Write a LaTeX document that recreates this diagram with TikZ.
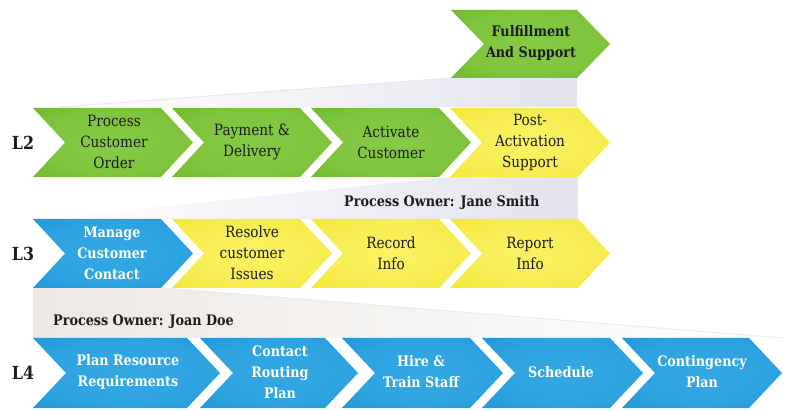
\documentclass[tikz,border=0pt]{standalone}
\usepackage{fontspec}
\setmainfont{DejaVu Serif}[FakeStretch=0.88]
\definecolor{txt}{HTML}{1C1C1C}
\definecolor{funA}{HTML}{E3E3EE}
\definecolor{funB}{HTML}{ECE8E4}
\pgfdeclareradialshading{glowgreen}{\pgfpoint{0bp}{0bp}}{%
  rgb(0bp)=(0.53,0.79,0.27); rgb(22bp)=(0.50,0.77,0.24); rgb(40bp)=(0.42,0.72,0.17); rgb(50bp)=(0.36,0.67,0.12); rgb(60bp)=(0.34,0.65,0.11)}
\pgfdeclareradialshading{glowyellow}{\pgfpoint{0bp}{0bp}}{%
  rgb(0bp)=(0.98,0.95,0.40); rgb(22bp)=(0.97,0.93,0.32); rgb(40bp)=(0.96,0.90,0.18); rgb(50bp)=(0.94,0.88,0.08); rgb(60bp)=(0.93,0.87,0.06)}
\pgfdeclareradialshading{glowblue}{\pgfpoint{0bp}{0bp}}{%
  rgb(0bp)=(0.20,0.66,0.89); rgb(22bp)=(0.18,0.64,0.88); rgb(40bp)=(0.12,0.58,0.85); rgb(50bp)=(0.09,0.54,0.82); rgb(60bp)=(0.08,0.52,0.80)}
\newcommand\chev[6]{% style, left, top, width, depth, height
  \path[#1] (#2,#3) -- ++({#4-#5},0) -- ++(#5,{#6/2}) -- ++({-#5},{#6/2})
    -- ++({-#4+#5},0) -- ++(#5,{-#6/2}) -- cycle;}
\tikzset{
  green/.style={shade, shading=glowgreen},
  yellow/.style={shade, shading=glowyellow},
  blue/.style={shade, shading=glowblue},
  lbl/.style={align=center, font=\fontsize{15.5}{21}\selectfont, text=txt, inner sep=0pt},
  blbl/.style={align=center, font=\fontsize{14.5}{21}\selectfont\bfseries, text=white, inner sep=0pt},
  dlbl/.style={align=center, font=\fontsize{14.5}{21}\selectfont\bfseries, text=txt, inner sep=0pt},
  lev/.style={font=\fontsize{18}{20}\selectfont\bfseries, text=txt, inner sep=0pt},
  owner/.style={font=\fontsize{14.5}{16}\selectfont\bfseries, text=txt, inner sep=0pt, anchor=west}
}
\begin{document}
\begin{tikzpicture}[x=1pt,y=-1pt]
\useasboundingbox (0,0) rectangle (800,411);
% funnels
\shade[left color=white, right color=funA] (451,78) -- (577,78) -- (577,107) -- (60,107) -- cycle;
\draw[funA!80!gray!50, line width=0.8pt] (451,78) -- (60,107);
\shade[left color=white, right color=funA] (450,177) -- (577,177) -- (577,219) -- (40,219) -- cycle;
\draw[funA!80!gray!50, line width=0.8pt] (577,177) -- (577,219);
\shade[left color=funB, right color=white] (33,288) -- (165,288) -- (783,338) -- (33,338) -- cycle;
\draw[funB!80!gray!50, line width=0.8pt] (165,288) -- (783,338);
% top
\chev{green}{451}{10}{159}{33}{68}
% L2
\chev{green}{33}{108}{160}{32}{69}
\chev{green}{172}{108}{160}{32}{69}
\chev{green}{311}{108}{160}{32}{69}
\chev{yellow}{450}{108}{160}{32}{69}
% L3
\chev{blue}{33}{219}{160}{32}{69}
\chev{yellow}{172}{219}{160}{32}{69}
\chev{yellow}{311}{219}{160}{32}{69}
\chev{yellow}{450}{219}{160}{32}{69}
% L4
\chev{blue}{33}{338}{187}{33}{70}
\chev{blue}{200}{338}{158}{33}{70}
\chev{blue}{342}{338}{161}{33}{70}
\chev{blue}{482}{338}{161}{33}{70}
\chev{blue}{622}{338}{160}{33}{70}
% texts
\node[dlbl] (ful) at (531,43) {Fulfillment\\And Support};
\node[lev] (l2) at (23,143) {L2};
\node[lev] (l3) at (23,254) {L3};
\node[lev] (l4) at (23,373) {L4};
\node[lbl] (pco) at (114,142) {Process\\Customer\\Order};
\node[lbl] (pd) at (252,142) {Payment \&\\Delivery};
\node[lbl] (ac) at (391,142) {Activate\\Customer};
\node[lbl] (pas) at (530,142) {Post-\\Activation\\Support};
\node[owner] (js) at (344,203) {Process Owner: Jane Smith};
\node[blbl] (mcc) at (112,253) {Manage\\Customer\\Contact};
\node[lbl] (rci) at (252,253) {Resolve\\customer\\Issues};
\node[lbl] (ri) at (391,253) {Record\\Info};
\node[lbl] (rpi) at (530,253) {Report\\Info};
\node[owner] (jd) at (53,322) {Process Owner: Joan Doe};
\node[blbl] (prr) at (128,372) {Plan Resource\\Requirements};
\node[blbl] (crp) at (280,372) {Contact\\Routing\\Plan};
\node[blbl] (hts) at (421,372) {Hire \&\\Train Staff};
\node[blbl] (sch) at (561,372) {Schedule};
\node[blbl] (cp) at (702,372) {Contingency\\Plan};
\end{tikzpicture}
\end{document}
